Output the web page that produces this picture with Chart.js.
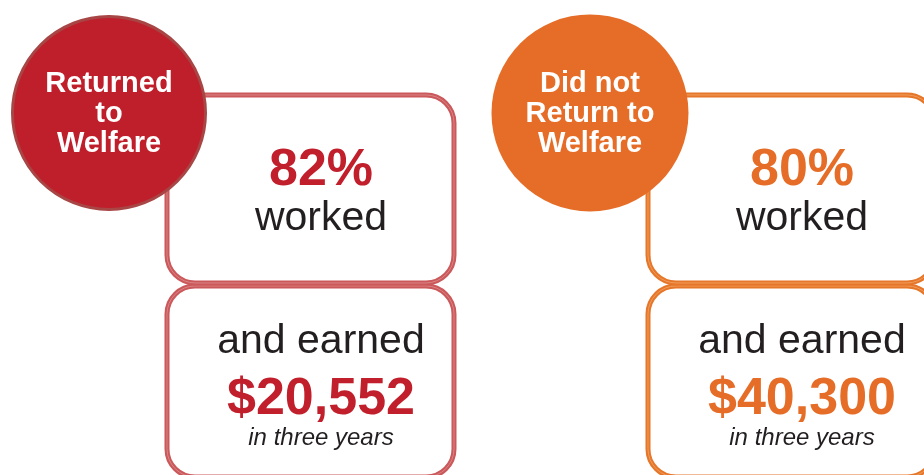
<!DOCTYPE html>
<html>
<head>
<meta charset="utf-8">
<script src="https://cdn.jsdelivr.net/npm/chart.js@4"></script>
<style>
  html, body { margin: 0; padding: 0; background: #fff; }
  #wrap { width: 924px; height: 475px; position: relative; }
</style>
</head>
<body>
<div id="wrap"><canvas id="chart"></canvas></div>
<script>
  // groups shown in the circles
  var groups = ['Returned to Welfare', 'Did not Return to Welfare'];
  var groupLines = [['Returned', 'to', 'Welfare'], ['Did not', 'Return to', 'Welfare']];
  var workedPct = [82, 80];
  var earnings = [20552, 40300];
  var period = 'in three years';

  var circleColors = ['#bf1e2b', '#e56d27'];
  var circleBorders = ['#a84545', '#e56d27'];
  var boxColors = ['#cb585b', '#e6772a'];
  var boxInner = ['#d98585', '#ef9c5c'];
  var textColors = ['#c01f2b', '#e56d27'];
  var dark = '#231f20';
  var font = '"Liberation Sans", Arial, Helvetica, sans-serif';

  function roundBox(ctx, x, y, w, h, r) {
      ctx.beginPath();
      ctx.moveTo(x + r, y);
      ctx.lineTo(x + w - r, y);
      ctx.arcTo(x + w, y, x + w, y + r, r);
      ctx.lineTo(x + w, y + h - r);
      ctx.arcTo(x + w, y + h, x + w - r, y + h, r);
      ctx.lineTo(x + r, y + h);
      ctx.arcTo(x, y + h, x, y + h - r, r);
      ctx.lineTo(x, y + r);
      ctx.arcTo(x, y, x + r, y, r);
      ctx.closePath();
  }

  function strokeBox(ctx, i, x, y, w, h) {
      roundBox(ctx, x, y, w, h, 28);
      ctx.fillStyle = '#fff';
      ctx.fill();
      ctx.lineWidth = 5;
      ctx.strokeStyle = boxColors[i];
      ctx.stroke();
      ctx.lineWidth = 1;
      ctx.strokeStyle = boxInner[i];
      ctx.stroke();
  }

  // boxes sit behind the circles, text goes on top
  var infoPlugin = {
      id: 'info',
      beforeDatasetsDraw: function(chart) {
          var ctx = chart.ctx;
          var pts = chart.getDatasetMeta(0).data;
          ctx.save();
          for (var i = 0; i < pts.length; i++) {
              var cx = pts[i].x, cy = pts[i].y;
              strokeBox(ctx, i, cx + 58, cy + 173, 287, 191);
              strokeBox(ctx, i, cx + 58, cy - 18, 287, 188);
          }
          ctx.restore();
      },
      afterDatasetsDraw: function(chart) {
          var ctx = chart.ctx;
          var pts = chart.getDatasetMeta(0).data;
          ctx.save();
          ctx.textAlign = 'center';
          ctx.textBaseline = 'alphabetic';
          for (var i = 0; i < pts.length; i++) {
              var cx = pts[i].x, cy = pts[i].y;
              // circle label
              ctx.fillStyle = '#fff';
              ctx.font = 'bold 29px ' + font;
              for (var j = 0; j < groupLines[i].length; j++) {
                  ctx.fillText(groupLines[i][j], cx, cy - 21 + j * 30);
              }
              var tx = cx + 212;
              ctx.fillStyle = textColors[i];
              ctx.font = 'bold 52px ' + font;
              ctx.fillText(workedPct[i] + '%', tx, cy + 72);
              ctx.fillStyle = dark;
              ctx.font = '41px ' + font;
              ctx.fillText('worked', tx, cy + 117);
              ctx.fillText('and earned', tx, cy + 240);
              ctx.fillStyle = textColors[i];
              ctx.font = 'bold 52px ' + font;
              ctx.fillText('$' + earnings[i].toLocaleString('en-US'), tx, cy + 301);
              ctx.fillStyle = dark;
              ctx.font = 'italic 24px ' + font;
              ctx.fillText(period, tx, cy + 332);
          }
          ctx.restore();
      }
  };

  var config = {
      type: 'scatter',
      data: {
          datasets: [{
              label: 'groups',
              data: groups.map(function(g, i) { return { x: i, y: 0 }; }),
              pointRadius: [96.5, 98.5],
              pointHoverRadius: [96.5, 98.5],
              backgroundColor: circleColors,
              borderColor: circleBorders,
              borderWidth: [3, 0],
              clip: false
          }]
      },
      options: {
          responsive: true,
          maintainAspectRatio: false,
          animation: false,
          events: [],
          layout: { padding: 0, autoPadding: false },
          plugins: {
              legend: { display: false },
              tooltip: { enabled: false }
          },
          scales: {
              x: { type: 'linear', display: false, min: -0.2266, max: 1.6944 },
              y: { type: 'linear', display: false, min: -1, max: 0.312 }
          }
      },
      plugins: [infoPlugin]
  };

  window.onload = function() {
      var ctx = document.getElementById('chart').getContext('2d');
      window.infoChart = new Chart(ctx, config);
  };
</script>
</body>
</html>
